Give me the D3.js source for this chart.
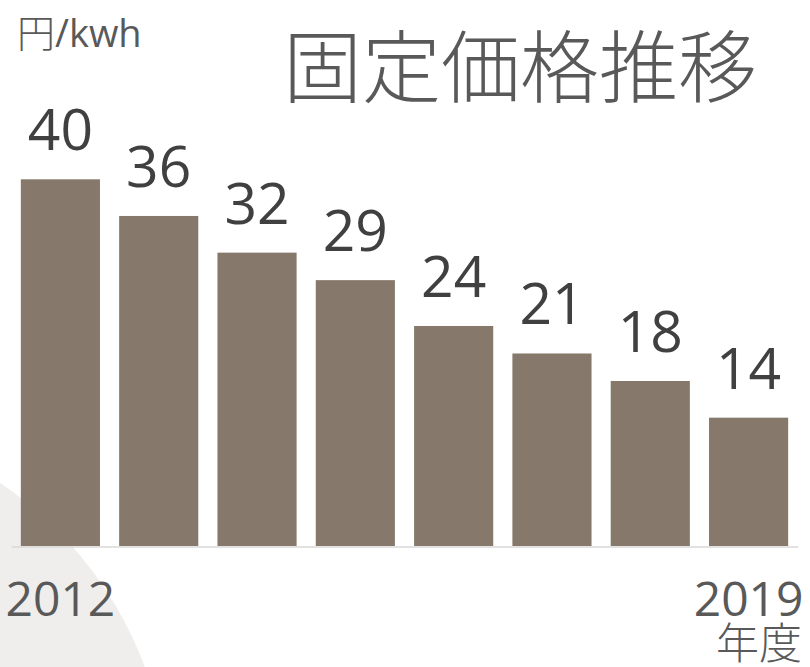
<!DOCTYPE html>
<html>
<head>
<meta charset="utf-8">
<script src="https://cdn.jsdelivr.net/npm/d3@7"></script>
<style>
  html, body { margin: 0; padding: 0; background: #ffffff; }
  svg { display: block; }
</style>
</head>
<body>
<svg id="chart" width="810" height="667"></svg>
<script>
// Feed-in tariff (円/kWh) by fiscal year
const years = [2012, 2013, 2014, 2015, 2016, 2017, 2018, 2019];
const prices = [40, 36, 32, 29, 24, 21, 18, 14];
const tickYears = [2012, 2019];

const titleText = "固定価格推移";
const unitYen = "円";
const unitRest = "/kwh";
const yearUnitText = "年度";

const baseY = 546;

const svg = d3.select("#chart");

// soft background disc in the lower-left corner
svg.append("circle")
  .attr("cx", -215)
  .attr("cy", 801)
  .attr("r", 384)
  .attr("fill", "#efeeec");

const x = d3.scaleBand()
  .domain(years)
  .range([11, 798])
  .paddingInner(0.195)
  .paddingOuter(0.1);

const y = d3.scaleLinear()
  .domain([0, d3.max(prices)])
  .range([baseY, 179.3]);

const data = years.map((yr, i) => ({ year: yr, value: prices[i] }));

// bars
svg.append("g")
  .selectAll("rect")
  .data(data)
  .join("rect")
  .attr("x", d => x(d.year))
  .attr("y", d => y(d.value))
  .attr("width", x.bandwidth())
  .attr("height", d => baseY - y(d.value))
  .attr("fill", "#86796b");

// value labels
svg.append("g")
  .selectAll("text")
  .data(data)
  .join("text")
  .attr("x", d => x(d.year) + x.bandwidth() / 2)
  .attr("y", d => y(d.value) - 29)
  .attr("text-anchor", "middle")
  .attr("font-family", "'Open Sans', 'Noto Sans', sans-serif")
  .attr("font-size", 57)
  .attr("fill", "#404040")
  .text(d => d.value);

// x axis: baseline and first / last year
const xAxis = d3.axisBottom(x)
  .tickValues(tickYears)
  .tickSize(0)
  .tickSizeOuter(0)
  .tickPadding(0);

const gx = svg.append("g")
  .attr("transform", `translate(0,${baseY + 0.5})`)
  .call(xAxis);

gx.select(".domain")
  .attr("stroke", "#d9d9d9")
  .attr("stroke-width", 1.5);

gx.selectAll(".tick text")
  .attr("y", 69)
  .attr("dy", 0)
  .attr("font-family", "'Open Sans', 'Noto Sans', sans-serif")
  .attr("font-size", 48)
  .attr("fill", "#595959");

// fiscal-year unit under the last tick
svg.append("text")
  .attr("x", 802)
  .attr("y", 659)
  .attr("text-anchor", "end")
  .attr("font-family", "'Noto Sans CJK JP', sans-serif")
  .attr("font-weight", 300)
  .attr("font-size", 43)
  .attr("fill", "#595959")
  .text(yearUnitText);

// unit label
const unit = svg.append("text")
  .attr("x", 17)
  .attr("y", 47)
  .attr("font-family", "'Open Sans', 'Noto Sans CJK JP', sans-serif")
  .attr("font-size", 38)
  .attr("fill", "#595959");
unit.append("tspan")
  .attr("font-family", "'Noto Sans CJK JP', sans-serif")
  .attr("font-weight", 300)
  .text(unitYen);
unit.append("tspan").text(unitRest);

// title
svg.append("text")
  .attr("x", 520)
  .attr("y", 97)
  .attr("text-anchor", "middle")
  .attr("font-family", "'Noto Sans CJK JP', sans-serif")
  .attr("font-weight", 300)
  .attr("font-size", 79)
  .attr("fill", "#595959")
  .text(titleText);
</script>
</body>
</html>
